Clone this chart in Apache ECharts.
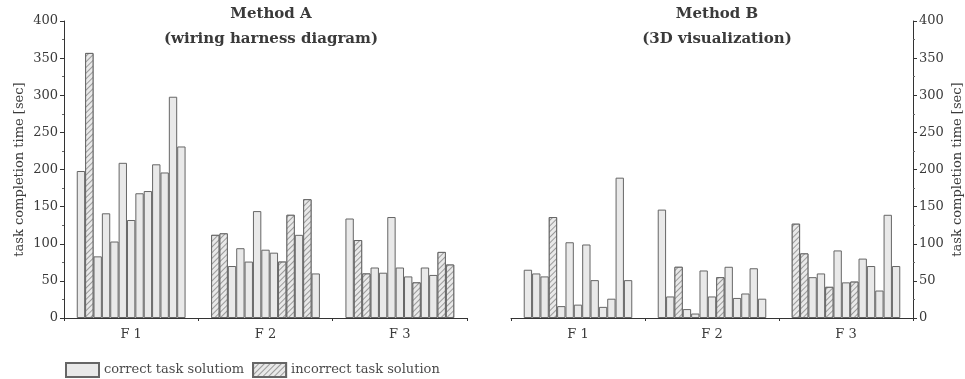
<!DOCTYPE html>
<html>
<head>
<meta charset="utf-8">
<script src="https://cdn.jsdelivr.net/npm/echarts@6/dist/echarts.min.js"></script>
<style>
  html, body { margin: 0; padding: 0; background: #fff; }
  #chart { width: 965px; height: 379px; }
</style>
</head>
<body>
<div id="chart"></div>
<script>
  // categories (failures) and y ticks
  const groups = ['F 1', 'F 2', 'F 3'];
  const yTicks = { min: 0, max: 400, step: 50 };

  // Method A: 13 participants per failure, time in sec
  const methodA_F1 = [198, 357, 83, 141, 103, 209, 132, 168, 171, 207, 196, 298, 231];
  const methodA_F2 = [112, 114, 70, 94, 76, 144, 92, 88, 76, 139, 112, 160, 60];
  const methodA_F3 = [134, 105, 60, 68, 61, 136, 68, 56, 48, 68, 58, 89, 72];
  // 1 = incorrect task solution (hatched)
  const methodA_F1_wrong = [0, 1, 0, 0, 0, 0, 0, 0, 0, 0, 0, 0, 0];
  const methodA_F2_wrong = [1, 1, 0, 0, 0, 0, 0, 0, 1, 1, 0, 1, 0];
  const methodA_F3_wrong = [0, 1, 1, 0, 0, 0, 0, 0, 1, 0, 0, 1, 1];

  // Method B
  const methodB_F1 = [65, 60, 56, 136, 16, 102, 18, 99, 51, 15, 26, 189, 51];
  const methodB_F2 = [146, 29, 69, 12, 6, 64, 29, 55, 69, 27, 33, 67, 26];
  const methodB_F3 = [127, 87, 55, 60, 42, 91, 48, 49, 80, 70, 37, 139, 70];
  const methodB_F1_wrong = [0, 0, 0, 1, 0, 0, 0, 0, 0, 0, 0, 0, 0];
  const methodB_F2_wrong = [0, 0, 1, 0, 0, 0, 0, 1, 0, 0, 0, 0, 0];
  const methodB_F3_wrong = [1, 1, 0, 0, 1, 0, 0, 1, 0, 0, 0, 0, 0];

  const legendNames = ['correct task solutiom', 'incorrect task solution'];

  const FONT = '"DejaVu Serif", "Liberation Serif", serif';
  const TXT = '#3a3a3a';
  const FILL = '#e9e9e9';
  const EDGE = '#666';
  const hatch = {
    symbol: 'rect',
    symbolSize: 1,
    rotation: -Math.PI / 4,
    dashArrayX: [1, 0],
    dashArrayY: [1, 2.6],
    color: '#9a9a9a',
    backgroundColor: FILL
  };

  function buildSeries(cols, wrongs, idx) {
    const out = [];
    for (let p = 0; p < cols[0].length; p++) {
      out.push({
        type: 'bar',
        xAxisIndex: idx * 2,
        yAxisIndex: idx,
        barGap: '0%',
        barCategoryGap: '19%',
        silent: true,
        data: cols.map((c, g) => ({
          value: c[p],
          itemStyle: wrongs[g][p] ? { decal: hatch } : {}
        })),
        itemStyle: { color: FILL, borderColor: EDGE, borderWidth: 1 }
      });
    }
    return out;
  }

  const series = []
    .concat(buildSeries([methodA_F1, methodA_F2, methodA_F3],
      [methodA_F1_wrong, methodA_F2_wrong, methodA_F3_wrong], 0))
    .concat(buildSeries([methodB_F1, methodB_F2, methodB_F3],
      [methodB_F1_wrong, methodB_F2_wrong, methodB_F3_wrong], 1));

  // legend-only series on a hidden grid
  series.push({
    name: legendNames[0], type: 'bar', xAxisIndex: 4, yAxisIndex: 2, data: [],
    itemStyle: { color: FILL, borderColor: EDGE, borderWidth: 1 }
  });
  series.push({
    name: legendNames[1], type: 'bar', xAxisIndex: 4, yAxisIndex: 2, data: [],
    itemStyle: { color: FILL, borderColor: EDGE, borderWidth: 1, decal: hatch }
  });

  function xAxisPair(gridIndex) {
    return [
      {
        type: 'category', gridIndex: gridIndex, data: groups,
        axisLine: { lineStyle: { color: '#333', width: 1 } },
        axisTick: { show: true, length: 3, lineStyle: { color: '#333' } },
        axisLabel: { color: TXT, fontFamily: FONT, fontSize: 13, margin: 10 }
      },
      {
        type: 'category', gridIndex: gridIndex, data: groups, position: 'bottom',
        axisLine: { show: false },
        axisTick: { show: true, alignWithLabel: true, inside: true, length: 4, lineStyle: { color: '#333' } },
        axisLabel: { show: false }
      }
    ];
  }

  function yAxis(gridIndex, pos) {
    return {
      type: 'value', gridIndex: gridIndex, position: pos,
      min: yTicks.min, max: yTicks.max, interval: yTicks.step,
      name: 'task completion time [sec]',
      nameLocation: 'middle', nameRotate: 90, nameGap: 38,
      nameTextStyle: { color: TXT, fontFamily: FONT, fontSize: 13 },
      axisLine: { show: true, lineStyle: { color: '#333', width: 1 } },
      axisTick: { show: true, length: 4, lineStyle: { color: '#333' } },
      minorTick: { show: true, splitNumber: 2, length: 2, lineStyle: { color: '#666' } },
      splitLine: { show: false },
      axisLabel: { color: TXT, fontFamily: FONT, fontSize: 13, margin: 6 }
    };
  }

  const option = {
    animation: false,
    backgroundColor: '#fff',
    title: [
      {
        text: 'Method A\n(wiring harness diagram)',
        left: 266, top: -3, textAlign: 'center',
        textStyle: { color: TXT, fontFamily: FONT, fontSize: 15, fontWeight: 'bold', lineHeight: 25 }
      },
      {
        text: 'Method B\n(3D visualization)',
        left: 712, top: -3, textAlign: 'center',
        textStyle: { color: TXT, fontFamily: FONT, fontSize: 15, fontWeight: 'bold', lineHeight: 25 }
      }
    ],
    legend: {
      data: legendNames,
      left: 60, top: 357,
      icon: 'rect', itemWidth: 33, itemHeight: 14, itemGap: 8,
      textStyle: { color: '#4a4a4a', fontFamily: FONT, fontSize: 13 }
    },
    grid: [
      { left: 64, top: 21, width: 403, height: 297 },
      { left: 511, top: 21, width: 403, height: 297 },
      { left: 0, top: 0, width: 1, height: 1, show: false }
    ],
    xAxis: xAxisPair(0).concat(xAxisPair(1)).concat([
      { type: 'category', gridIndex: 2, show: false, data: ['x'] }
    ]),
    yAxis: [
      yAxis(0, 'left'),
      yAxis(1, 'right'),
      { type: 'value', gridIndex: 2, show: false }
    ],
    series: series
  };

  const chart = echarts.init(document.getElementById('chart'));
  chart.setOption(option);
</script>
</body>
</html>
